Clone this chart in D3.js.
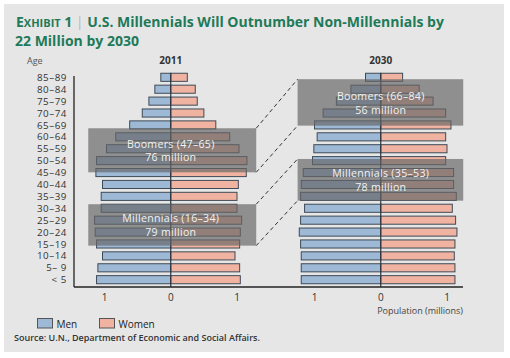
<!DOCTYPE html>
<html><head><meta charset="utf-8">
<script src="https://cdn.jsdelivr.net/npm/d3@7"></script>
<style>body{margin:0;background:#fff}svg{display:block}text{font-family:"Open Sans",sans-serif}</style>
</head><body>
<svg id="c" width="510" height="358"></svg>
<script>
const ageGroups = ["85–89","80–84","75–79","70–74","65–69","60–64","55–59","50–54","45–49","40–44","35–39","30–34","25–29","20–24","15–19","10–14","5– 9","< 5"];
const men2011   = [0.15,0.24,0.33,0.43,0.62,0.83,0.97,1.12,1.13,1.03,1.05,1.05,1.15,1.14,1.12,1.03,1.10,1.12];
const women2011 = [0.25,0.37,0.40,0.50,0.68,0.89,1.03,1.15,1.14,1.02,1.00,1.00,1.07,1.05,1.04,0.97,1.04,1.05];
const men2030   = [0.23,0.45,0.67,0.87,1.00,0.96,1.01,1.03,1.17,1.20,1.21,1.15,1.21,1.23,1.21,1.20,1.20,1.20];
const women2030 = [0.33,0.58,0.79,0.98,1.06,0.98,1.00,0.98,1.10,1.10,1.14,1.08,1.13,1.15,1.12,1.11,1.12,1.12];
const years = ["2011","2030"];
const tickValues = [-1,0,1];
const tickLabels = ["1","0","1"];
// generation boxes: [age bottom, age top] on continuous age axis
const boxes2011 = [
  {name:"Boomers (47–65)", total:"76 million", ages:[47.6,66.1]},
  {name:"Millennials (16–34)", total:"79 million", ages:[16.8,34.2]}
];
const boxes2030 = [
  {name:"Boomers (66–84)", total:"56 million", ages:[67.2,86.7]},
  {name:"Millennials (35–53)", total:"78 million", ages:[35.7,53.2]}
];

const svg = d3.select("#c");
svg.append("rect").attr("x",4).attr("y",4).attr("width",500).attr("height",348).attr("fill","#e6e6e6");

// title
const green = "#1e7a58";
const t1 = svg.append("text").attr("x",16).attr("y",27).attr("fill",green).attr("font-weight",700).attr("font-size",14);
t1.append("tspan").text("E");
t1.append("tspan").attr("font-size",11).text("XHIBIT");
t1.append("tspan").text(" 1 ");
t1.append("tspan").attr("fill","#9a9a9a").attr("font-weight",300).text("|");
t1.append("tspan").text(" U.S. Millennials Will Outnumber Non-Millennials by");
svg.append("text").attr("x",15).attr("y",45.5).attr("fill",green).attr("font-weight",700).attr("font-size",14).text("22 Million by 2030");

const y = d3.scaleBand().domain(ageGroups).range([71.35,285.65]).paddingInner(0.32).paddingOuter(0.16);
const yAge = d3.scaleLinear().domain([0,90]).range([285.65,71.35]);

const xs = [
  d3.scaleLinear().domain([-1,1]).range([104.5,237]),
  d3.scaleLinear().domain([-1,1]).range([314.5,447])
];
const data = [[men2011,women2011],[men2030,women2030]];

svg.append("text").attr("x",27).attr("y",64).attr("font-size",9).attr("fill","#555").text("Age");
svg.append("g").selectAll("text").data(ageGroups).join("text")
  .attr("x",67).attr("y",d=>y(d)+y.bandwidth()/2+3.6).attr("text-anchor","end")
  .attr("font-family","Lato").attr("font-size",9.8).attr("letter-spacing",0.55).attr("fill","#333").text(d=>d);

const barStroke = "#3e4a56";
years.forEach((yr,i)=>{
  const x = xs[i];
  const g = svg.append("g");
  g.append("text").attr("x",x(0)).attr("y",64).attr("text-anchor","middle").attr("font-size",10).attr("font-weight",700).attr("fill","#333").text(yr);
  g.selectAll(".m").data(data[i][0]).join("rect")
    .attr("x",d=>x(-d)).attr("width",d=>x(0)-x(-d))
    .attr("y",(d,k)=>y(ageGroups[k])).attr("height",y.bandwidth())
    .attr("fill","#9db9d6").attr("stroke",barStroke).attr("stroke-width",1);
  g.selectAll(".w").data(data[i][1]).join("rect")
    .attr("x",x(0)).attr("width",d=>x(d)-x(0))
    .attr("y",(d,k)=>y(ageGroups[k])).attr("height",y.bandwidth())
    .attr("fill","#f1b3a1").attr("stroke",barStroke).attr("stroke-width",1);
  g.append("line").attr("x1",x(0)).attr("x2",x(0)).attr("y1",73).attr("y2",287).attr("stroke","#2c3640").attr("stroke-width",1.2);
  g.selectAll(".tk").data(tickValues).join("text")
    .attr("x",d=>x(d)).attr("y",301).attr("text-anchor","middle").attr("font-size",10).attr("fill","#333")
    .text((d,k)=>tickLabels[k]);
});

// axes lines
svg.append("line").attr("x1",74).attr("x2",74).attr("y1",76).attr("y2",287).attr("stroke","#222").attr("stroke-width",1.3);
svg.append("line").attr("x1",74).attr("x2",463).attr("y1",287).attr("y2",287).attr("stroke","#222").attr("stroke-width",1.3);

// boxes
const boxSets = [boxes2011, boxes2030];
const bx = [[-1.245,1.29],[-1.255,1.245]];
const corners = [];
boxSets.forEach((bs,i)=>{
  const x = xs[i];
  bs.forEach((b,j)=>{
    const x0 = x(bx[i][0]), x1 = x(bx[i][1]);
    const y0 = yAge(b.ages[1]), y1 = yAge(b.ages[0]);
    svg.append("rect").attr("x",x0).attr("y",y0).attr("width",x1-x0).attr("height",y1-y0)
      .attr("fill","#666").attr("opacity",0.68);
    const cy = (y0+y1)/2;
    svg.append("text").attr("x",x(0)).attr("y",cy-2.6).attr("text-anchor","middle").attr("font-family","Lato").attr("font-size",10.6).attr("letter-spacing",0.3).attr("fill","#f2f2f2").text(b.name);
    svg.append("text").attr("x",x(0)).attr("y",cy+11.2).attr("text-anchor","middle").attr("font-family","Lato").attr("font-size",10.6).attr("letter-spacing",0.3).attr("fill","#f2f2f2").text(b.total);
    corners.push({i,j,x0,x1,y0,y1});
  });
});
[0,1].forEach(j=>{
  const a = corners.find(c=>c.i===0&&c.j===j), b = corners.find(c=>c.i===1&&c.j===j);
  [["y0","y0"],["y1","y1"]].forEach(([p,q])=>{
    svg.append("line").attr("x1",a.x1).attr("y1",a[p]).attr("x2",b.x0).attr("y2",b[q])
      .attr("stroke","#333").attr("stroke-width",1).attr("stroke-dasharray","4,3");
  });
});

svg.append("text").attr("x",463).attr("y",314).attr("text-anchor","end").attr("font-size",9).attr("fill","#444").text("Population (millions)");

// legend
const leg = [{k:"Men",c:"#9db9d6",x:37.5},{k:"Women",c:"#f1b3a1",x:99.5}];
leg.forEach(l=>{
  svg.append("rect").attr("x",l.x).attr("y",318.5).attr("width",15).attr("height",9.5).attr("fill",l.c).attr("stroke","#555").attr("stroke-width",1);
  svg.append("text").attr("x",l.x+19).attr("y",327.5).attr("font-size",10).attr("fill","#222").text(l.k);
});
svg.append("text").attr("x",14).attr("y",341).attr("font-size",9).attr("font-weight",600).attr("fill","#333").text("Source: U.N., Department of Economic and Social Affairs.");
</script>
</body></html>
